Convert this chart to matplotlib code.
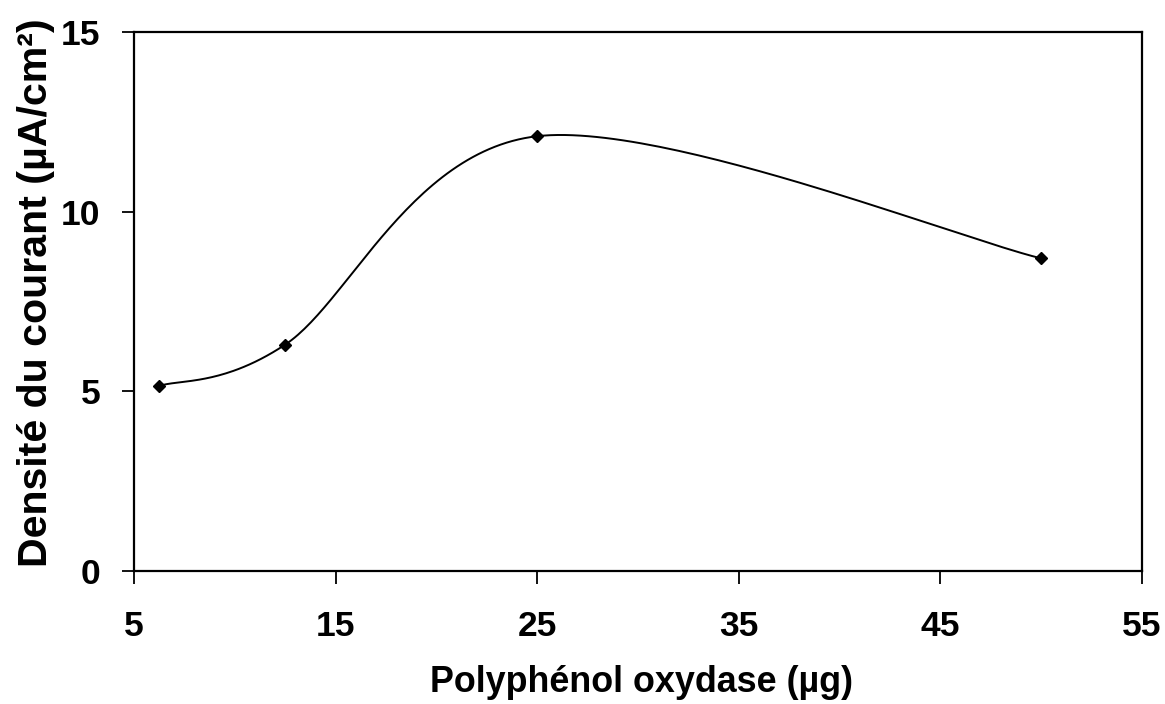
import numpy as np
import matplotlib
matplotlib.use("Agg")
import matplotlib.pyplot as plt

# Polyphenol oxidase loading vs. current density
enzyme_ug = [6.25, 12.5, 25.0, 50.0]
current_density = [5.15, 6.3, 12.1, 8.7]
x_ticks = [5, 15, 25, 35, 45, 55]
y_ticks = [0, 5, 10, 15]

plt.rcParams["font.family"] = ["Liberation Sans", "DejaVu Sans"]
plt.rcParams["font.weight"] = "bold"


def smooth_curve(xs, ys, n=60):
    """Catmull-Rom style cubic Bezier through the points (spreadsheet smoothing)."""
    p = np.column_stack([xs, ys]).astype(float)
    ext = np.vstack([p[0], p, p[-1]])
    out = []
    for i in range(len(p) - 1):
        p0, p1, p2, p3 = ext[i], ext[i + 1], ext[i + 2], ext[i + 3]
        c1 = p1 + (p2 - p0) / 6.0
        c2 = p2 - (p3 - p1) / 6.0
        t = np.linspace(0, 1, n)[:, None]
        seg = ((1 - t) ** 3) * p1 + 3 * ((1 - t) ** 2) * t * c1 \
            + 3 * (1 - t) * t ** 2 * c2 + t ** 3 * p2
        out.append(seg if i == 0 else seg[1:])
    return np.vstack(out)


fig = plt.figure(figsize=(11.65, 7.04), dpi=100)
ax = fig.add_axes([134 / 1165, 1 - 571 / 704, 1008 / 1165, 539 / 704])

curve = smooth_curve(enzyme_ug, current_density)
ax.plot(curve[:, 0], curve[:, 1], color="black", lw=1.4, solid_joinstyle="round")
ax.plot(enzyme_ug, current_density, linestyle="none", marker="D",
        markersize=6.5, color="black")

ax.set_xlim(5, 55)
ax.set_ylim(0, 15)
ax.set_xticks(x_ticks)
ax.set_yticks(y_ticks)
ax.tick_params(direction="out", length=9, width=1.3, labelsize=25.5, pad=15)
ax.tick_params(axis="x", pad=19)
for lab in ax.get_xticklabels() + ax.get_yticklabels():
    lab.set_fontweight("bold")
for s in ax.spines.values():
    s.set_linewidth(1.6)

ax.set_xlabel("Polyphénol oxydase (µg)", fontsize=25.8, fontweight="bold", va="baseline")
ax.xaxis.set_label_coords(0.5035, -0.2245)
ax.set_ylabel("Densité du courant (µA/cm²)", fontsize=29.6, fontweight="bold")
ax.yaxis.set_label_coords(-0.078, 0.517)

fig.savefig("out.png", dpi=100, facecolor="white")
